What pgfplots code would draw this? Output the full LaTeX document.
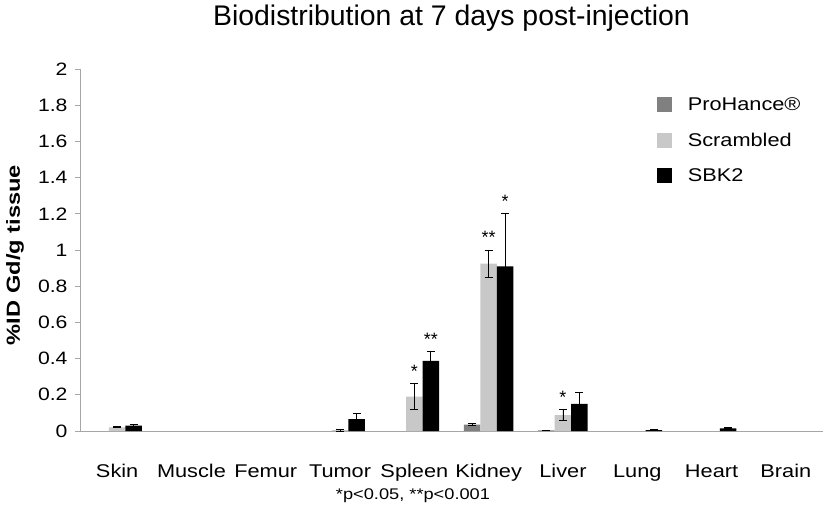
\documentclass[border=0pt]{standalone}
\usepackage{pgfplots}
\pgfplotsset{compat=1.18}
\usepackage{fontspec}
\setmainfont{Liberation Sans}
\newfontfamily\sfs[FakeStretch=1.18]{Liberation Sans}
\newfontfamily\sfy[FakeStretch=1.25]{Liberation Sans}
\definecolor{proh}{HTML}{808080}
\definecolor{scr}{HTML}{C8C8C8}
\definecolor{axgray}{HTML}{A6A6A6}
\begin{document}
\begin{tikzpicture}
\begin{axis}[
  name=ax,
  scale only axis,
  width=743bp, height=362bp,
  xmin=-0.5, xmax=9.5,
  ymin=0, ymax=2,
  ytick={0,0.2,...,2.01},
  yticklabel style={/pgf/number format/fixed,/pgf/number format/assume math mode=true,font=\sfs\fontsize{18}{21}\selectfont, xshift=-4bp},
  xtick={0,...,9},
  xticklabels={Skin,Muscle,Femur,Tumor,Spleen,Kidney,Liver,Lung,Heart,Brain},
  xticklabel style={font=\sfs\fontsize{18.5}{21}\selectfont, anchor=base, yshift=-41bp},
  major x tick style={draw=none},
  extra x ticks={-0.5,0.5,...,9.5},
  extra x tick labels={},
  extra x tick style={major tick length=7bp, tick style={axgray, line width=0.8pt}, tick align=outside},
  axis x line*=bottom,
  axis y line*=left,
  axis line style={axgray, line width=0.8pt},
  y axis line style={-},
  x axis line style={-},
  ytick style={axgray, line width=0.8pt},
  tick align=outside,
  major tick length=5bp,
  legend style={draw=none, fill=none, at={(0.772,0.933)}, anchor=north west,
    font=\sfs\fontsize{18.5}{21}\selectfont, row sep=17bp, column sep=14bp, legend cell align=left},
  legend image code/.code={\fill[#1] (0bp,-7.5bp) rectangle (15bp,7.5bp);},
  clip=false,
]
% ProHance
\addplot[ybar, bar width=16.5bp, bar shift=0pt, fill=proh, draw=none,
  error bars/.cd, y dir=both, y explicit,
  error bar style={black, line width=0.9pt},
  error mark options={rotate=90, mark size=4bp, black, line width=0.9pt}]
  coordinates {
  (4.778,0.035) +- (0,0.004)
  (5.778,0.004) +- (0,0.001)
  };
\addlegendentry{ProHance®}
% Scrambled
\addplot[ybar, bar width=16.5bp, bar shift=0pt, fill=scr, draw=none,
  error bars/.cd, y dir=both, y explicit,
  error bar style={black, line width=0.9pt},
  error mark options={rotate=90, mark size=4bp, black, line width=0.9pt}]
  coordinates {
  (0,0.02) +- (0,0.003)
  (3,0.005) +- (0,0.006)
  (4,0.19) +- (0,0.07)
  (5,0.925) +- (0,0.075)
  (6,0.088) +- (0,0.03)
  };
\addlegendentry{Scrambled}
% SBK2
\addplot[ybar, bar width=16.5bp, bar shift=0pt, fill=black, draw=none,
  error bars/.cd, y dir=both, y explicit,
  error bar style={black, line width=0.9pt},
  error mark options={rotate=90, mark size=4bp, black, line width=0.9pt}]
  coordinates {
  (0.222,0.03) +- (0,0.005)
  (3.222,0.065) +- (0,0.03)
  (4.222,0.387) +- (0,0.05)
  (5.222,0.91) +- (0,0.29)
  (6.222,0.15) +- (0,0.065)
  (7.222,0.005) +- (0,0.002)
  (8.222,0.015) +- (0,0.003)
  };
\addlegendentry{SBK2}
% significance stars
\addplot[draw=none, mark=none, nodes near coords, point meta=explicit symbolic,
  nodes near coords style={anchor=south, font=\fontsize{18}{20}\selectfont, yshift=5bp, inner sep=1bp}]
  coordinates {
  (4,0.26) [*]
  (4.222,0.437) [**]
  (5,1.0) [**]
  (5.222,1.2) [*]
  (6,0.118) [*]
  };
\node[anchor=base, font=\fontsize{28.5}{32}\selectfont, inner sep=0pt] at ([yshift=43bp]rel axis cs:0.5,1) {Biodistribution at 7 days post-injection};
\node[rotate=90, anchor=center, font=\sfy\fontsize{19}{22}\selectfont\bfseries, inner sep=0pt] at ([xshift=-65bp,yshift=-5bp]rel axis cs:0,0.5) {\%ID Gd/g tissue};
\node[anchor=base, font=\sfs\fontsize{15.5}{18}\selectfont, inner sep=0pt] at ([xshift=333bp,yshift=-68bp]rel axis cs:0,0) {*p<0.05, **p<0.001};
\end{axis}
\path (ax.south west) ++(-80bp,-83bp) coordinate (bl);
\path (ax.north east) ++(4bp,69bp) coordinate (tr);
\path (bl) rectangle (tr);
\end{tikzpicture}
\end{document}
